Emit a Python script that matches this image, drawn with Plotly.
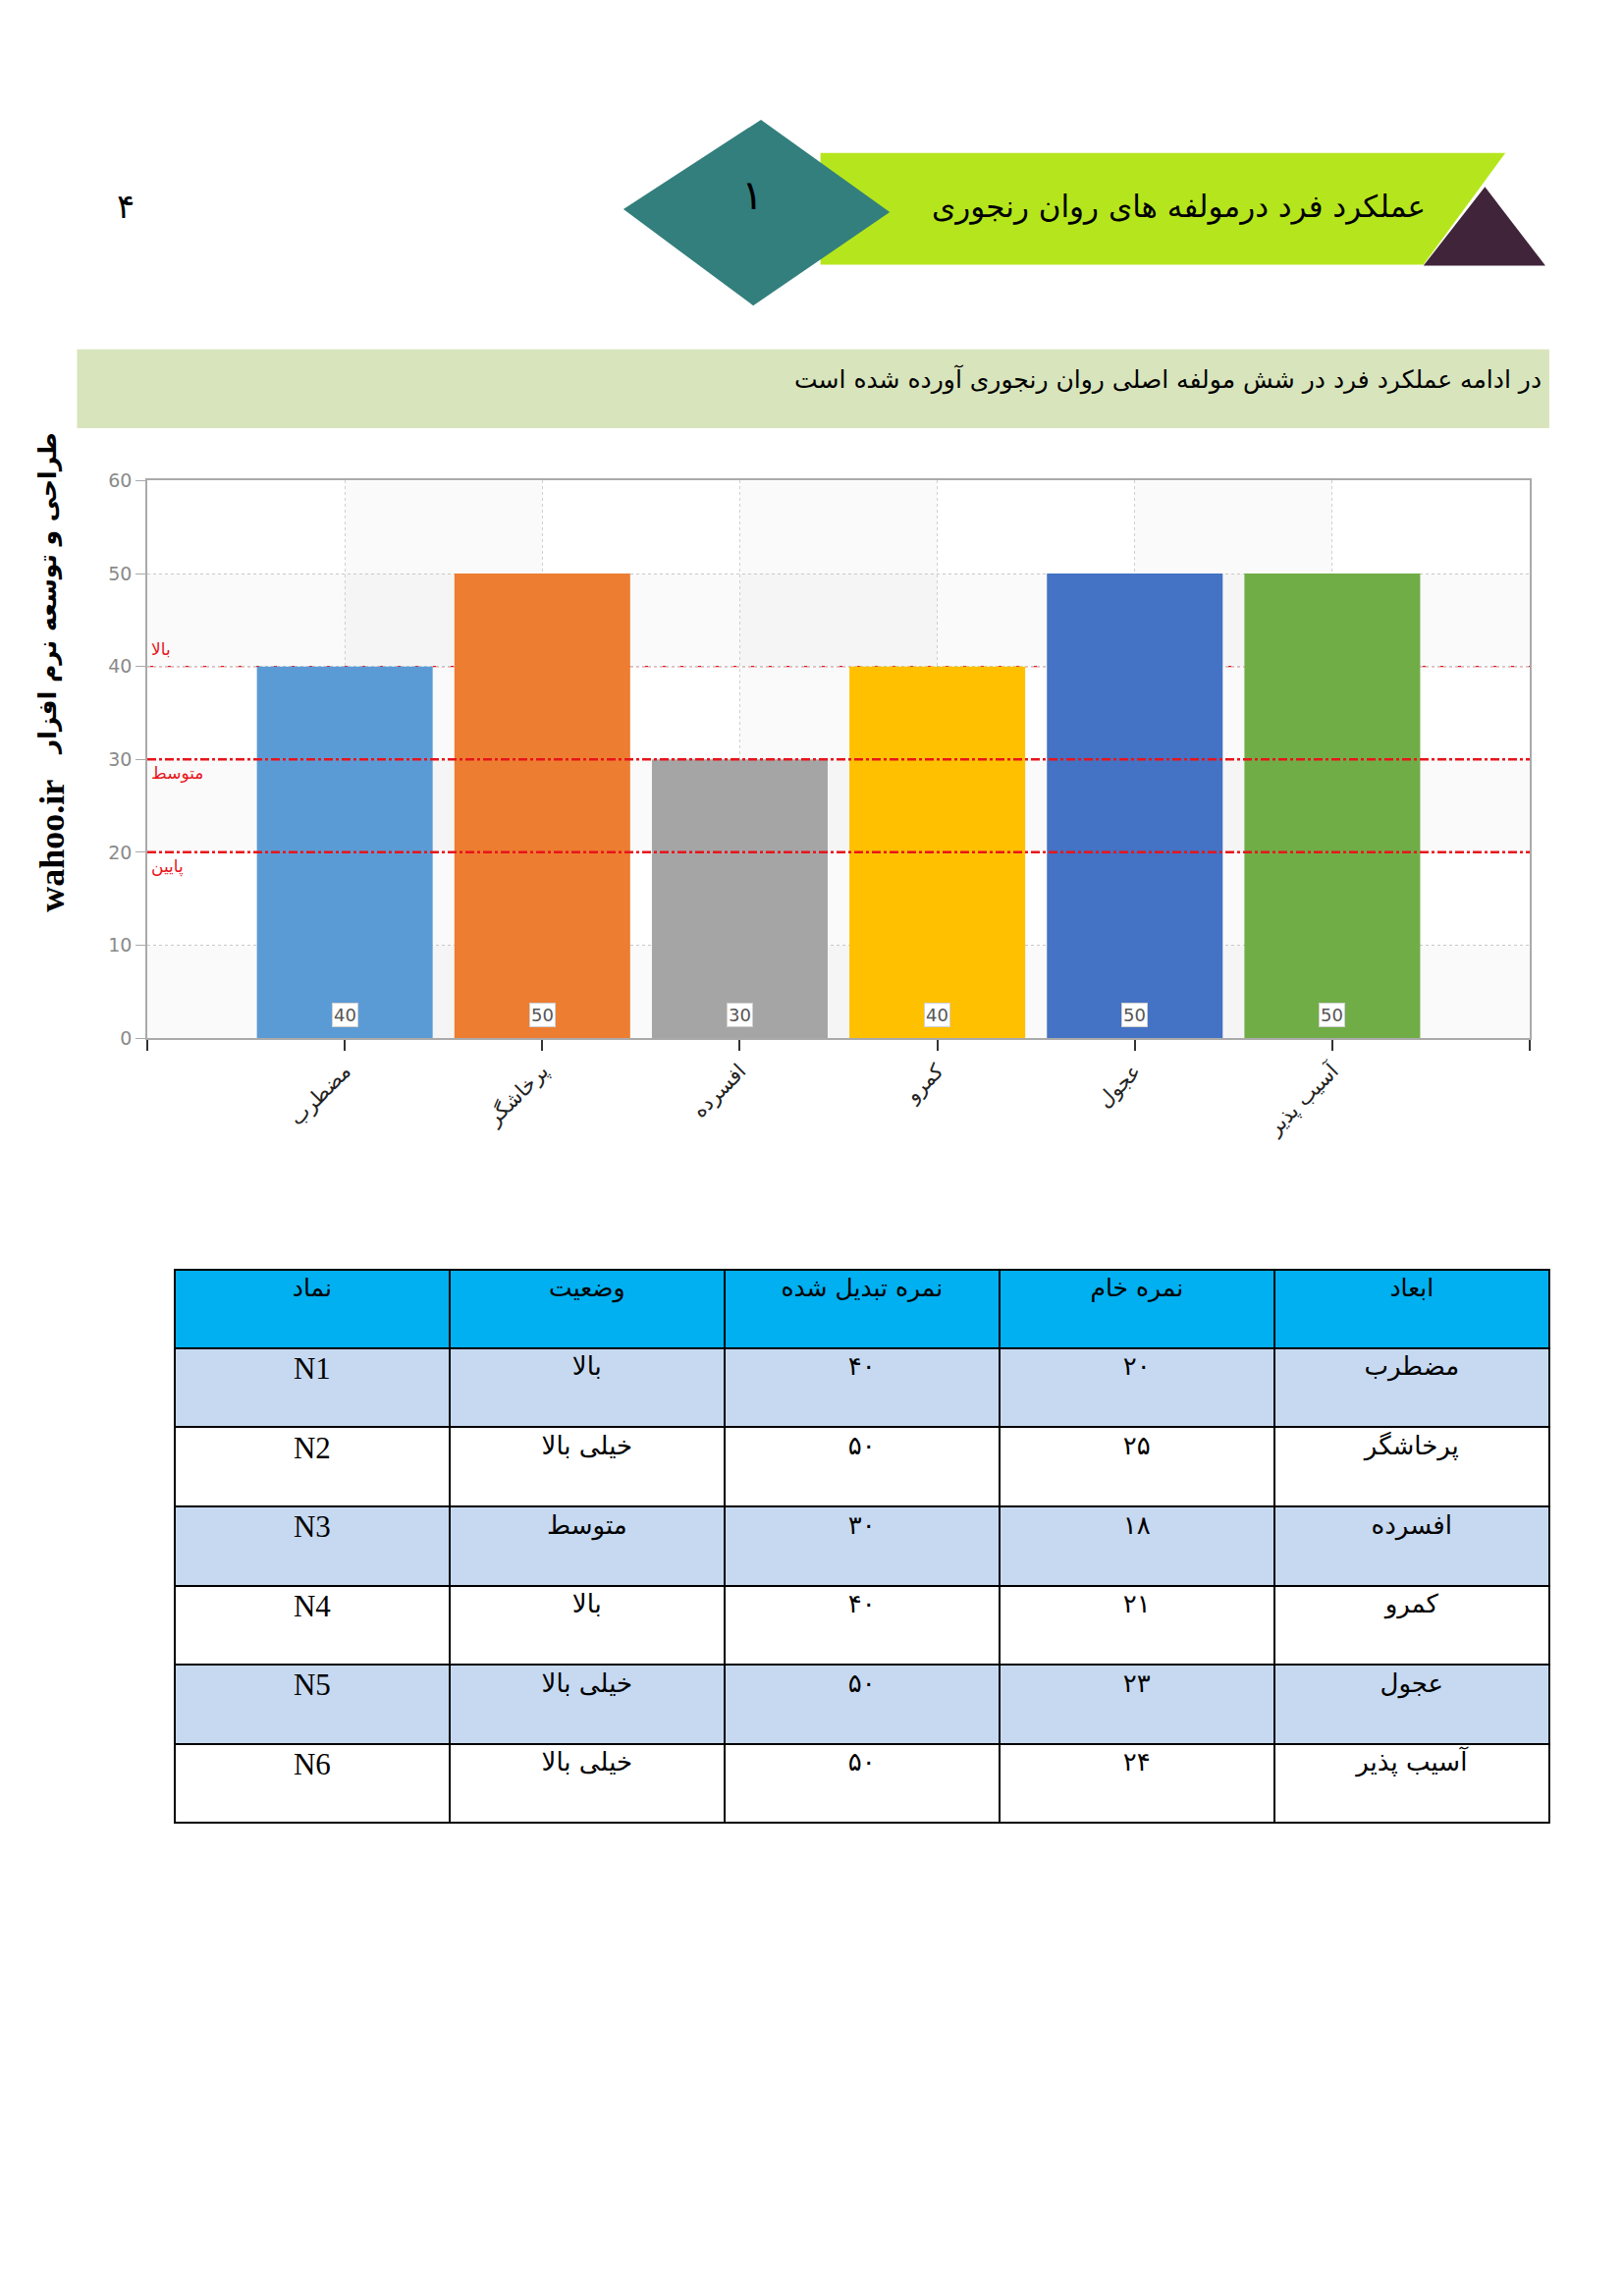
import plotly.graph_objects as go

# page size (px)
W, H = 1654, 2338

categories = ["مضطرب", "پرخاشگر", "افسرده", "کمرو", "عجول", "آسیب پذیر"]
scores = [40, 50, 30, 40, 50, 50]
raw_scores = [20, 25, 18, 21, 23, 24]
status = ["بالا", "خیلی بالا", "متوسط", "بالا", "خیلی بالا", "خیلی بالا"]
symbols = ["N1", "N2", "N3", "N4", "N5", "N6"]
bar_colors = ["#5B9BD5", "#ED7D31", "#A5A5A5", "#FFC000", "#4472C4", "#70AD47"]

levels = [40, 30, 20]
level_names = ["بالا", "متوسط", "پایین"]

table_header = ["نماد", "وضعیت", "نمره تبدیل شده", "نمره خام", "ابعاد"]

title_text = "عملکرد فرد درمولفه های روان رنجوری"
intro_text = "در ادامه عملکرد فرد در شش مولفه اصلی روان رنجوری آورده شده است"
side_fa = "طراحی و توسعه نرم افزار"
side_en = "wahoo.ir"
page_no = "۴"
section_no = "۱"

FA = "DejaVu Sans"
fa_digits = str.maketrans("0123456789", "۰۱۲۳۴۵۶۷۸۹")


def fx(x):
    # small horizontal correction measured against the reference
    x = x - (x - 150) * 0.0063
    return x / W


def fy(y):
    return 1 - (y - 9) / H


def poly(pts):
    return "M " + " L ".join(f"{fx(x):.5f},{fy(y):.5f}" for x, y in pts) + " Z"


xs = list(range(len(categories)))

fig = go.Figure()
fig.add_trace(go.Bar(x=xs, y=scores, width=0.89, marker=dict(color=bar_colors, line=dict(width=0)),
                     showlegend=False, hoverinfo="x+y"))

# value boxes at the foot of each bar
for i, v in zip(xs, scores):
    fig.add_annotation(x=i, y=0, text=str(v), showarrow=False, yanchor="bottom", yshift=11,
                       bgcolor="white", bordercolor="#d0d0d0", borderwidth=1, borderpad=1,
                       font=dict(family="DejaVu Sans", size=18, color="#555555"))

# background bands
band = "rgba(0,0,0,0.02)"
for i in range(0, len(categories), 2):
    fig.add_shape(type="rect", xref="x", yref="y", x0=i, x1=i + 1, y0=0, y1=60,
                  fillcolor=band, line_width=0, layer="below")
for y0 in range(0, 60, 20):
    fig.add_shape(type="rect", xref="x", yref="y", x0=-1, x1=len(categories), y0=y0, y1=y0 + 10,
                  fillcolor=band, line_width=0, layer="below")

# threshold lines
for lv, name in zip(levels, level_names):
    top = lv == max(levels)
    fig.add_shape(type="line", xref="x", yref="y", x0=-1, x1=len(categories), y0=lv, y1=lv,
                  line=dict(color="#e8141b", width=1.2 if top else 2.5, dash="dashdot"),
                  layer="below" if top else "above")
    fig.add_annotation(x=-1, y=lv, xref="x", yref="y", text=name, showarrow=False,
                       xanchor="left", yanchor="bottom" if top else "top",
                       xshift=2, yshift=6 if top else -2,
                       font=dict(family=FA, size=17, color="#e8141b"))

fig.update_xaxes(domain=[fx(150), fx(1567)], range=[-1, len(categories)],
                 tickmode="array", tickvals=list(range(-1, len(categories) + 1)),
                 ticktext=[""] + categories + [""], tickangle=-45,
                 tickfont=dict(family=FA, size=21, color="#222222"),
                 ticks="outside", ticklen=11, tickcolor="#333333", tickwidth=1.5,
                 showline=True, linecolor="#aaaaaa", linewidth=2, mirror=True,
                 showgrid=True, gridcolor="#d0d0d0", griddash="dot", gridwidth=1,
                 zeroline=False, fixedrange=True)
fig.update_yaxes(domain=[fy(1065), fy(492)], range=[0, 60], dtick=10,
                 tickfont=dict(family="DejaVu Sans", size=19, color="#8a8a8a"),
                 ticks="outside", ticklen=10, tickcolor="#aaaaaa",
                 showline=True, linecolor="#aaaaaa", linewidth=1.5, mirror=True,
                 showgrid=True, gridcolor="#c8c8c8", griddash="dot", gridwidth=1,
                 zeroline=False, fixedrange=True)

# table
conv = [str(v).translate(fa_digits) for v in scores]
raw = [str(v).translate(fa_digits) for v in raw_scores]
row_fill = ["#C6D9F1" if k % 2 == 0 else "white" for k in range(len(categories))]
fig.add_trace(go.Table(
    domain=dict(x=[fx(178), fx(1587)], y=[fy(1890), fy(1303)]),
    header=dict(values=table_header, fill_color="#00B0F0", height=80,
                line=dict(color="black", width=2), align="center",
                font=dict(family=FA, size=25, color="black")),
    cells=dict(values=[symbols, status, conv, raw, categories],
               fill_color=[row_fill] * 5, height=80.6,
               line=dict(color="black", width=2), align="center",
               font=dict(family=["Liberation Serif", FA, FA, FA, FA], size=[31, 26, 26, 26, 26],
                         color="black"))))

# header banner
fig.add_shape(type="path", xref="paper", yref="paper",
              path=poly([(840, 155), (1542, 155), (1458, 270), (840, 270)]),
              fillcolor="#B5E61D", line_width=0)
fig.add_shape(type="path", xref="paper", yref="paper",
              path=poly([(1458, 271), (1521, 190), (1583, 271)]),
              fillcolor="#40243A", line_width=0)
fig.add_shape(type="path", xref="paper", yref="paper",
              path=poly([(638, 213), (779, 121), (911, 216), (771, 312)]),
              fillcolor="#337F7D", line_width=0)
fig.add_annotation(x=fx(770), y=fy(172), xref="paper", yref="paper", text=section_no, showarrow=False,
                   font=dict(family=FA, size=42, color="black"))
fig.add_annotation(x=fx(1462), y=fy(190), xref="paper", yref="paper", text=title_text, showarrow=False,
                   xanchor="right", font=dict(family=FA, size=31, color="black"))

# intro box
fig.add_shape(type="rect", xref="paper", yref="paper", x0=fx(78), x1=fx(1587), y0=fy(438), y1=fy(357),
              fillcolor="#D8E4BC", line_width=0)
fig.add_annotation(x=fx(1581), y=fy(370), xref="paper", yref="paper", text=intro_text, showarrow=False,
                   xanchor="right", font=dict(family=FA, size=25, color="black"))

# page number and side text
fig.add_annotation(x=fx(117), y=fy(188), xref="paper", yref="paper", text=page_no, showarrow=False,
                   font=dict(family=FA, size=34, color="black"))
fig.add_annotation(x=fx(30), y=fy(867), xref="paper", yref="paper", text="<b>" + side_en + "</b>",
                   showarrow=False, textangle=-90,
                   font=dict(family="Liberation Serif", size=36, color="black"))
fig.add_annotation(x=fx(32), y=fy(440), xref="paper", yref="paper", text="<b>" + side_fa + "</b>",
                   showarrow=False, textangle=-90, yanchor="top",
                   font=dict(family=FA, size=25, color="black"))

fig.update_layout(width=W, height=H, margin=dict(l=0, r=0, t=0, b=0),
                  paper_bgcolor="white", plot_bgcolor="white", bargap=0.11)

fig.write_html("out.html", config={"displayModeBar": False},
               post_script="document.body.style.margin='0';")
